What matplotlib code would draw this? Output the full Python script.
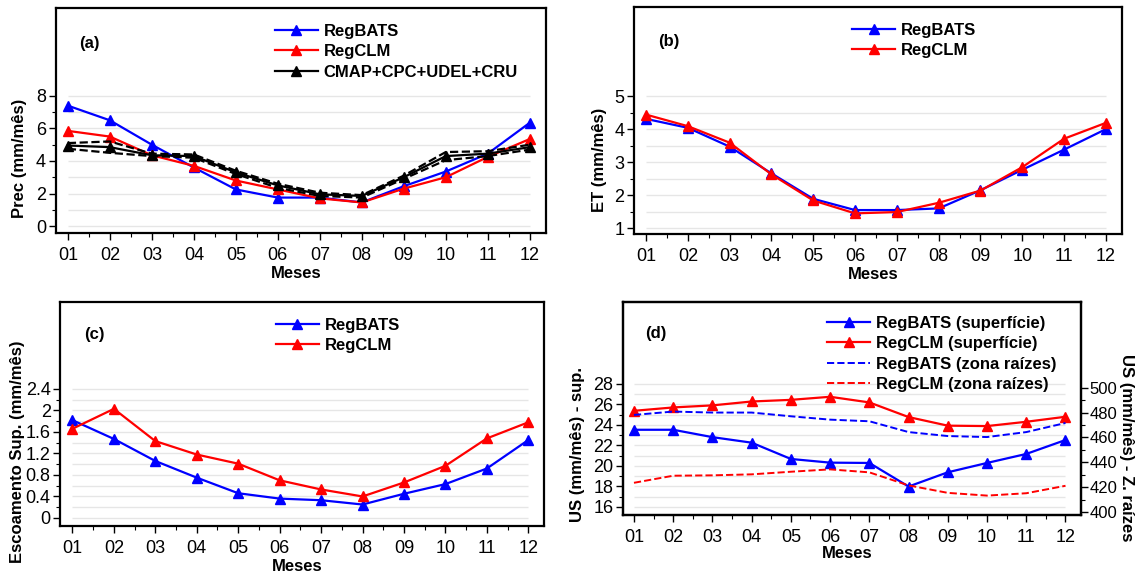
import numpy as np
import matplotlib
matplotlib.use("Agg")
import matplotlib.pyplot as plt

plt.rcParams['font.family'] = ['Liberation Sans', 'DejaVu Sans']

# meses
meses = ["01", "02", "03", "04", "05", "06", "07", "08", "09", "10", "11", "12"]
x = np.arange(1, 13)

# (a) precipitacao
prec_regbats = [7.4, 6.5, 5.0, 3.6, 2.25, 1.75, 1.75, 1.45, 2.45, 3.35, 4.45, 6.35]
prec_regclm = [5.85, 5.5, 4.35, 3.7, 2.8, 2.25, 1.7, 1.45, 2.3, 3.0, 4.25, 5.35]
prec_obs = [4.95, 4.85, 4.35, 4.3, 3.3, 2.5, 1.95, 1.85, 3.0, 4.3, 4.45, 4.85]
prec_obs_sup = [5.1, 5.2, 4.45, 4.4, 3.4, 2.6, 2.05, 1.9, 3.1, 4.55, 4.6, 5.0]
prec_obs_inf = [4.75, 4.5, 4.3, 4.2, 3.2, 2.35, 1.85, 1.75, 2.9, 4.05, 4.3, 4.7]

# (b) evapotranspiracao
et_regbats = [4.31, 4.04, 3.47, 2.66, 1.89, 1.55, 1.55, 1.6, 2.15, 2.77, 3.38, 4.0]
et_regclm = [4.44, 4.09, 3.59, 2.63, 1.84, 1.45, 1.49, 1.77, 2.14, 2.85, 3.71, 4.19]

# (c) escoamento superficial
esc_regbats = [1.82, 1.47, 1.06, 0.75, 0.46, 0.36, 0.33, 0.25, 0.45, 0.63, 0.92, 1.45]
esc_regclm = [1.66, 2.03, 1.43, 1.18, 1.01, 0.70, 0.53, 0.40, 0.66, 0.97, 1.48, 1.78]

# (d) umidade do solo
us_sup_regbats = [23.52, 23.52, 22.8, 22.26, 20.67, 20.31, 20.28, 17.98, 19.37, 20.28, 21.16, 22.52]
us_sup_regclm = [25.37, 25.7, 25.9, 26.28, 26.44, 26.74, 26.19, 24.76, 23.92, 23.88, 24.3, 24.79]
us_raiz_regbats = [478.1, 480.8, 480.0, 480.0, 477.0, 474.3, 473.0, 464.3, 461.1, 460.3, 464.3, 471.6]
us_raiz_regclm = [423.5, 429.2, 429.5, 430.3, 432.4, 434.3, 431.9, 421.4, 415.4, 413.2, 415.1, 421.1]

AZUL = "#0000FF"
VERM = "#FF0000"
GRADE = "#e6e6e6"
FONTE_TICK = 13
FONTE_ROT = 12

fig = plt.figure(figsize=(11.36, 5.74), dpi=100)
ax_a = fig.add_axes([0.049, 0.594, 0.4314, 0.392])
ax_b = fig.add_axes([0.558, 0.592, 0.4295, 0.396])
ax_c = fig.add_axes([0.0532, 0.0836, 0.4257, 0.3904])
ax_d = fig.add_axes([0.5484, 0.1028, 0.403, 0.3712])


def estilo(ax, ylim, yticks, yminor, grade, xlim=(0.71, 12.38)):
    ax.set_xlim(*xlim)
    ax.set_ylim(*ylim)
    ax.set_xticks(x)
    ax.set_xticklabels(meses)
    ax.set_xticks(np.arange(1.5, 12, 1.0), minor=True)
    ax.set_yticks(yticks)
    ax.set_yticks(yminor, minor=True)
    ax.hlines(grade, 1, 12, colors=GRADE, linewidth=1.0, zorder=0)
    for s in ax.spines.values():
        s.set_linewidth(1.6)
    ax.tick_params(axis='both', which='major', direction='out', length=5, width=1.0,
                   labelsize=FONTE_TICK, pad=2)
    ax.tick_params(axis='both', which='minor', direction='out', length=3, width=0.8)
    ax.tick_params(axis='x', pad=5)
    ax.set_xlabel("Meses", fontsize=FONTE_ROT, fontweight='bold')
    ax.xaxis.set_label_coords(0.49, -0.145)


def linha(ax, y, cor, rot):
    ax.plot(x, y, color=cor, linewidth=1.6, marker='^', markersize=6.5, label=rot)


def legenda(ax, x0, y0, handles=None, labels=None):
    kw = dict(loc='upper left', bbox_to_anchor=(x0, y0), frameon=False,
              prop={'weight': 'bold', 'size': FONTE_ROT}, handlelength=2.6, handletextpad=0.33,
              labelspacing=0.33, borderpad=0, borderaxespad=0)
    if handles is None:
        ax.legend(**kw)
    else:
        ax.legend(handles, labels, **kw)


# (a)
estilo(ax_a, (-0.43, 13.4), [0, 2, 4, 6, 8], np.arange(1, 8, 2), np.arange(0, 9, 1))
linha(ax_a, prec_regbats, AZUL, "RegBATS")
linha(ax_a, prec_regclm, VERM, "RegCLM")
linha(ax_a, prec_obs, "black", "CMAP+CPC+UDEL+CRU")
ax_a.plot(x, prec_obs_sup, color="black", linestyle="--", linewidth=1.6)
ax_a.plot(x, prec_obs_inf, color="black", linestyle="--", linewidth=1.6)
ax_a.set_ylabel("Prec (mm/mês)", fontsize=FONTE_ROT, fontweight='bold')
ax_a.yaxis.set_label_coords(-0.058, 0.33)
ax_a.text(0.047, 0.844, "(a)", transform=ax_a.transAxes, fontsize=12, fontweight='bold', va='center')
legenda(ax_a, 0.447, 0.93)

# (b)
estilo(ax_b, (0.82, 7.7), [1, 2, 3, 4, 5], np.arange(1.5, 5, 1.0), np.arange(1, 5.01, 0.5))
linha(ax_b, et_regbats, AZUL, "RegBATS")
linha(ax_b, et_regclm, VERM, "RegCLM")
ax_b.set_ylabel("ET (mm/mês)", fontsize=FONTE_ROT, fontweight='bold')
ax_b.yaxis.set_label_coords(-0.056, 0.326)
ax_b.text(0.05, 0.846, "(b)", transform=ax_b.transAxes, fontsize=12, fontweight='bold', va='center')
legenda(ax_b, 0.447, 0.93)

# (c)
estilo(ax_c, (-0.15, 4.02), [0, 0.4, 0.8, 1.2, 1.6, 2, 2.4], np.arange(0.2, 2.4, 0.4),
       np.arange(0, 2.41, 0.2))
ax_c.set_yticklabels(["0", "0.4", "0.8", "1.2", "1.6", "2", "2.4"])
linha(ax_c, esc_regbats, AZUL, "RegBATS")
linha(ax_c, esc_regclm, VERM, "RegCLM")
ax_c.set_ylabel("Escoamento Sup. (mm/mês)", fontsize=FONTE_ROT, fontweight='bold')
ax_c.yaxis.set_label_coords(-0.073, 0.33)
ax_c.text(0.048, 0.853, "(c)", transform=ax_c.transAxes, fontsize=12, fontweight='bold', va='center')
legenda(ax_c, 0.445, 0.93)

# (d)
estilo(ax_d, (15.2, 36.0), np.arange(16, 29, 2), np.arange(17, 28, 2), np.arange(16, 28.1, 1),
       xlim=(0.72, 12.39))
ax_d2 = ax_d.twinx()
ax_d2.set_ylim(397.6, 569)
ax_d2.set_yticks(np.arange(400, 501, 20))
ax_d2.set_yticks(np.arange(410, 500, 20), minor=True)
ax_d2.tick_params(axis='y', which='major', direction='out', length=5, width=1.0,
                  labelsize=12, pad=1.5)
ax_d2.tick_params(axis='y', which='minor', direction='out', length=3, width=0.8)
for s in ax_d2.spines.values():
    s.set_linewidth(1.6)
linha(ax_d, us_sup_regbats, AZUL, "RegBATS (superfície)")
linha(ax_d, us_sup_regclm, VERM, "RegCLM (superfície)")
ax_d2.plot(x, us_raiz_regbats, color=AZUL, linestyle="--", linewidth=1.4, label="RegBATS (zona raízes)")
ax_d2.plot(x, us_raiz_regclm, color=VERM, linestyle="--", linewidth=1.4, label="RegCLM (zona raízes)")
ax_d.set_ylabel("US (mm/mês) - sup.", fontsize=FONTE_ROT, fontweight='bold')
ax_d.yaxis.set_label_coords(-0.084, 0.33)
ax_d2.set_ylabel("US (mm/mês) - Z. raízes", fontsize=FONTE_ROT, fontweight='bold', rotation=270, va='bottom')
ax_d2.yaxis.set_label_coords(1.084, 0.315)
ax_d.text(0.048, 0.854, "(d)", transform=ax_d.transAxes, fontsize=12, fontweight='bold', va='center')
h1, l1 = ax_d.get_legend_handles_labels()
h2, l2 = ax_d2.get_legend_handles_labels()
legenda(ax_d2, 0.446, 0.935, h1 + h2, l1 + l2)

fig.savefig("out.png", dpi=100)
